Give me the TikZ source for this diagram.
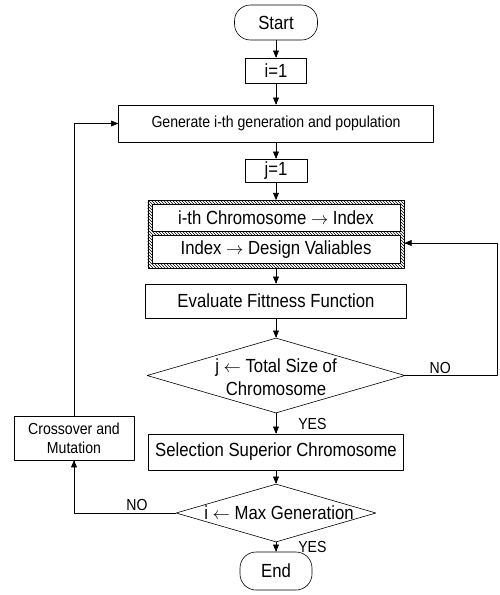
\documentclass[tikz,border=0pt]{standalone}
\usepackage{fontspec}
\setmainfont{Liberation Sans}[FakeStretch=0.88]
\usepackage{tikz}
\usetikzlibrary{arrows}
\usetikzlibrary{shapes.geometric}
\usetikzlibrary{fit,backgrounds,patterns}
\newcommand{\smalltxt}{\fontsize{16}{19}\selectfont}
\newcommand{\labeltxt}{\fontsize{16}{19}\selectfont}
\tikzstyle{every node}=[font=\fontsize{19}{23}\selectfont]
\tikzstyle{term}=[draw,rounded corners=16pt,inner sep=0pt]
\tikzstyle{proc}=[draw,fill=white,inner sep=0pt]
\tikzstyle{decision}=[draw,diamond,inner sep=0pt]
\tikzstyle{hatchframe}=[draw,pattern=north west lines,inner sep=4pt]
\tikzstyle{answer}=[font=\labeltxt,inner sep=2pt]

\begin{document}
\begin{tikzpicture}[line cap=round,line join=round,>=triangle 45,x=1.0pt,y=-1.0pt,line width=0.6pt]
            \clip(0,0) rectangle (500,595);
            \node [term,minimum width=83pt,minimum height=35pt] (start) at (276,22.5) {Start};
            \node [proc,minimum width=61pt,minimum height=25pt] (i1) at (276,70.5) {i=1};
            \node [proc,minimum width=315pt,minimum height=37pt,font=\smalltxt] (gen) at (276,123.5) {Generate i-th generation and population};
            \node [proc,minimum width=62pt,minimum height=23pt] (j1) at (276,170.5) {j=1};
            \node [proc,minimum width=248pt,minimum height=27pt] (chrom) at (276,218) {i-th Chromosome $\rightarrow$ Index};
            \node [proc,minimum width=248pt,minimum height=28pt] (index) at (276,249.5) {Index $\rightarrow$ Design Valiables};
            \begin{scope}[on background layer]
            \node [hatchframe,fit=(chrom)(index)] (frame) {};
            \end{scope}
            \node [proc,minimum width=261pt,minimum height=34pt] (eval) at (276,301) {Evaluate Fittness Function};
            \node [decision,minimum width=258pt,minimum height=75pt,label={[align=center,yshift=-2pt]center:j $\leftarrow$ Total Size of\\Chromosome}] (test) at (276,375.5) {};
            \node [proc,minimum width=255pt,minimum height=36pt] (sel) at (276,452) {Selection Superior Chromosome};
            \node [decision,minimum width=200pt,minimum height=58pt,label={[xshift=3pt]center:i $\leftarrow$ Max Generation}] (maxgen) at (276,513) {};
            \node [term,minimum width=72pt,minimum height=38pt] (end) at (276,571) {End};
            \node [proc,minimum width=120pt,minimum height=44pt,font=\smalltxt,align=center] (cross) at (74,438) {Crossover and\\Mutation};
            \coordinate (ret) at (497,375.5);
            \draw [->] (start) -- (i1);
            \draw [->] (i1) -- (gen);
            \draw [->] (gen) -- (j1);
            \draw [->] (j1) -- (frame);
            \draw [->] (frame) -- (eval);
            \draw [->] (eval) -- (test);
            \draw [->] (test) -- node [answer,anchor=west,xshift=20pt] (yes1) {YES} (sel);
            \draw [->] (sel) -- (maxgen);
            \draw [->] (maxgen) -- node [answer,anchor=west,xshift=20pt] (yes2) {YES} (end);
            \draw [->] (test.east) -- node [answer,anchor=south,pos=0.38] (no1) {NO} (ret) |- ([yshift=-9pt]frame.east);
            \draw [->] (maxgen.west) -| node [answer,anchor=south,pos=0.19] (no2) {NO} (cross.south);
            \draw [->] (cross.north) |- (gen.west);
\end{tikzpicture}
\end{document}
